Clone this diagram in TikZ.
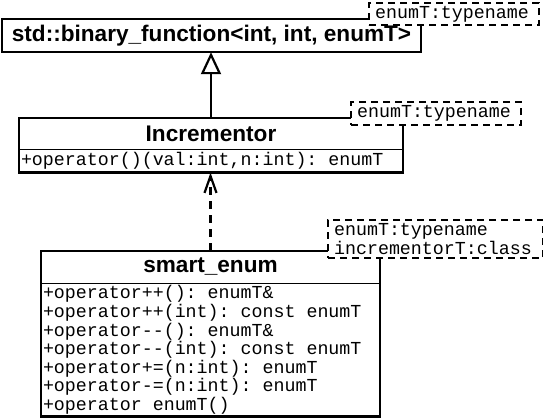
\documentclass[tikz,border=0pt]{standalone}
\usepackage{fontspec}
\setmainfont{Liberation Sans}
\newfontfamily\monof[Ligatures=NoCommon]{Liberation Mono}
\newcommand\monosel{\monof\fontsize{18.3}{18.6}\selectfont}
\newcommand\fixspaces{\frenchspacing\spaceskip=0pt\xspaceskip=0pt\relax}
\usetikzlibrary{arrows.meta}
\begin{document}
\begin{tikzpicture}[x=1pt,y=-1pt,
  cls/.style={inner sep=0pt, font=\bfseries\fontsize{22.6}{24}\selectfont},
  ops/.style={inner sep=2pt, align=left, font=\monosel, execute at begin node=\fixspaces},
  frame/.style={line width=2.4pt},
  sep/.style={line width=1.4pt},
  tmpl/.style={draw, line width=2.2pt, dash pattern=on 7pt off 5pt, fill=white,
    align=left, anchor=north west, inner xsep=6pt, inner ysep=1pt,
    font=\monosel, execute at begin node=\fixspaces},
  gen/.style={line width=2.2pt, -{Triangle[open, fill=white, length=22pt, width=20pt]}},
  dep/.style={line width=2.2pt, dash pattern=on 8pt off 6pt, -{Straight Barb[length=17pt, width=12pt]}}
]
\useasboundingbox (0,0) rectangle (543,418);
% classes
\node[cls, minimum width=419pt, minimum height=33pt] (bf) at (211.5,35.5) {std::binary\_function<int, int, enumT>};
\draw[frame] (bf.north west) rectangle (bf.south east);
\node[cls, minimum width=384pt, minimum height=31pt] (inc) at (211,133.5) {Incrementor};
\node[ops, anchor=north, text width=380pt, minimum height=23pt] (incop) at (inc.south) {+operator()(val:int,n:int): enumT};
\draw[frame] (inc.north west) rectangle (incop.south east);
\draw[sep] (inc.south west) -- (inc.south east);
\node[cls, minimum width=339pt, minimum height=32pt] (se) at (210.5,267) {smart\_enum};
\node[ops, anchor=north, text width=335pt, minimum height=133pt] (seop) at (se.south) {+operator++(): enumT\&\\
+operator++(int): const enumT\\
+operator-{}-(): enumT\&\\
+operator-{}-(int): const enumT\\
+operator+=(n:int): enumT\\
+operator-=(n:int): enumT\\
+operator enumT()};
\draw[frame] (se.north west) rectangle (seop.south east);
\draw[sep] (se.south west) -- (se.south east);
% connectors
\draw[gen] (inc.north) -- (inc.north |- bf.south);
\draw[dep] (se.north) -- (se.north |- incop.south);
% template parameters
\node[tmpl, text width=158pt, minimum height=22pt] (t1) at (368,2) {enumT:typename};
\node[tmpl, text width=158pt, minimum height=23pt] (t2) at (350,101) {enumT:typename};
\node[tmpl, text width=203pt, minimum height=38pt] (t3) at (327,219) {enumT:typename\\incrementorT:class};
\end{tikzpicture}
\end{document}
